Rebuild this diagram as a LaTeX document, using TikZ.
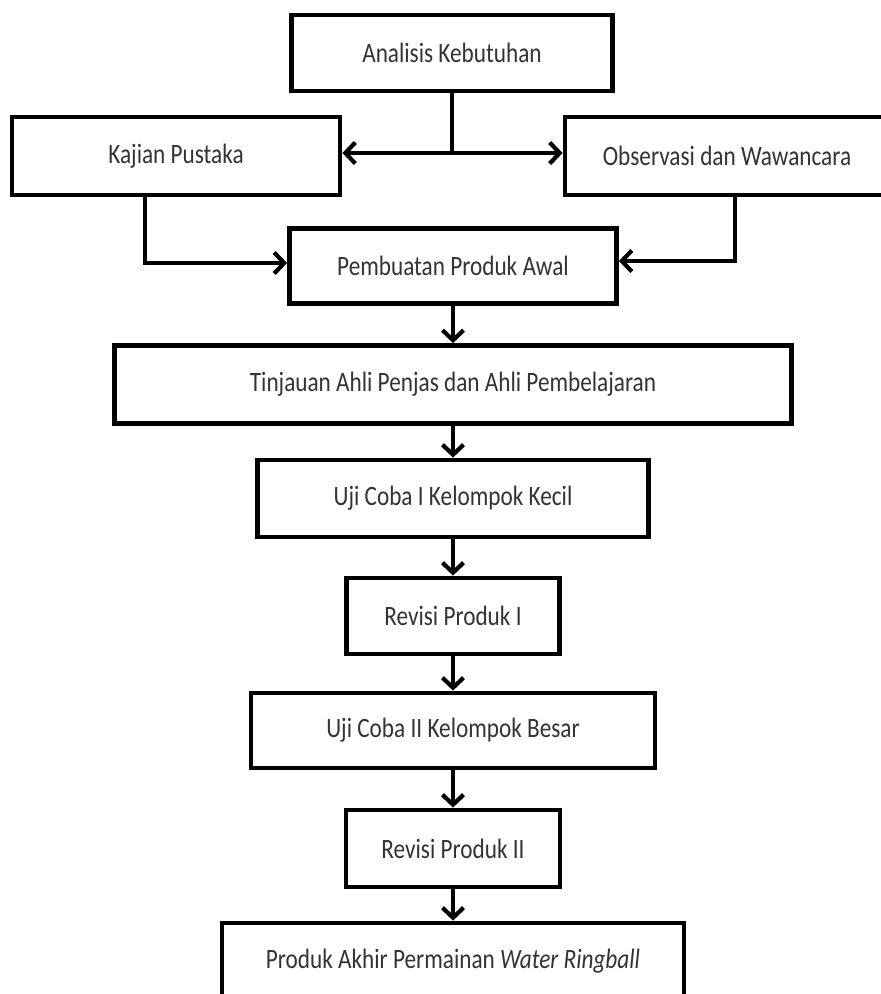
\documentclass[tikz,border=0pt]{standalone}
\usepackage{fontspec}
\setmainfont{Carlito}[FakeStretch=0.83]
\usetikzlibrary{arrows.meta}
\begin{document}
\begin{tikzpicture}[x=1pt,y=-1pt,
  box/.style={draw=black, line width=4.8pt, fill=white, inner sep=0pt,
    font=\fontsize{28}{32}\selectfont, text=black!80},
  conn/.style={draw=black, line width=4.8pt},
  arr/.style={conn, -{Straight Barb[length=10pt,width=21pt,line width=4.2pt]}}
]
\useasboundingbox (0,0) rectangle (881,994);
\begin{scope}
\clip (0,0) rectangle (881,994);
\node[box, minimum width=321pt, minimum height=76pt] (ana) at (452,53) {Analisis Kebutuhan};
\node[box, minimum width=328pt, minimum height=78pt] (kaj) at (176,156) {Kajian Pustaka};
\node[box, minimum width=324pt, minimum height=78pt] (obs) at (727,156) {Observasi dan Wawancara};
\node[box, minimum width=327pt, minimum height=75pt] (pem) at (453,266) {Pembuatan Produk Awal};
\node[box, minimum width=677pt, minimum height=78pt] (tin) at (453,384.5) {Tinjauan Ahli Penjas dan Ahli Pembelajaran};
\node[box, minimum width=391pt, minimum height=77pt] (uj1) at (453,498.5) {Uji Coba I Kelompok Kecil};
\node[box, minimum width=213pt, minimum height=76pt] (rv1) at (453,616) {Revisi Produk I};
\node[box, minimum width=404pt, minimum height=75pt] (uj2) at (453,730.5) {Uji Coba II Kelompok Besar};
\node[box, minimum width=214pt, minimum height=77pt] (rv2) at (453,848.5) {Revisi Produk II};
\node[box, minimum width=462pt, minimum height=77pt] (akh) at (453,961.5) {Produk Akhir Permainan \textit{Water Ringball}};

\coordinate (j) at (ana.south |- 0,153);
\draw[conn] (ana.south) -- (j);
\draw[arr] (j) -- (kaj.east |- j);
\draw[arr] (j) -- (obs.west |- j);
\draw[arr] ([xshift=-31pt]kaj.south) |- ([yshift=3pt]pem.west);
\draw[arr] ([xshift=8pt]obs.south) |- ([yshift=5pt]pem.east);
\draw[arr] (pem.south) -- (tin.north);
\draw[arr] (tin.south) -- (uj1.north);
\draw[arr] (uj1.south) -- (rv1.north);
\draw[arr] (rv1.south) -- (uj2.north);
\draw[arr] (uj2.south) -- (rv2.north);
\draw[arr] (rv2.south) -- (akh.north);
\end{scope}
\end{tikzpicture}
\end{document}
